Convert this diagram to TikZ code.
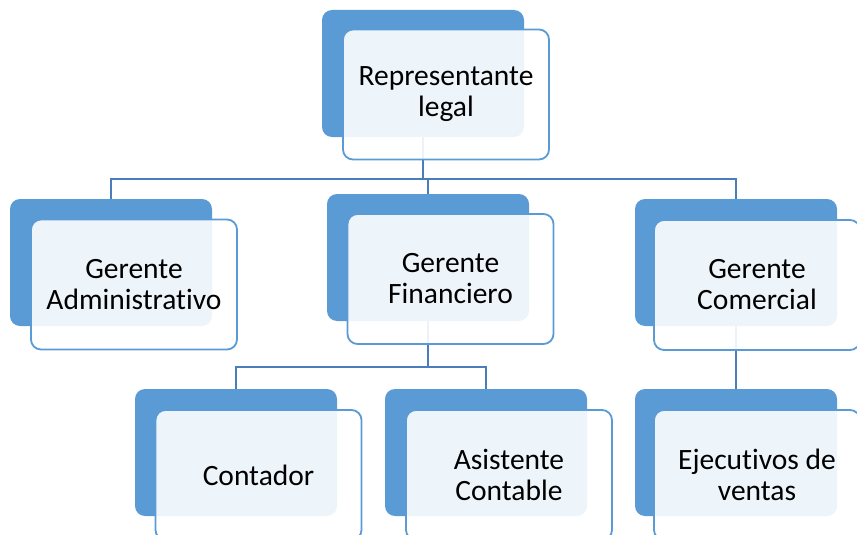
\documentclass[tikz,border=0pt]{standalone}
\usepackage{fontspec}
\setmainfont[Ligatures={NoCommon}]{Carlito}
\usepackage{xcolor}
\usepackage{tikz}
\definecolor{boxblue}{HTML}{5B9BD5}
\definecolor{lineblue}{HTML}{4A7EBB}

\begin{document}
\begin{tikzpicture}[x=1pt,y=-1pt,
  back/.style={fill=boxblue,draw=none,rounded corners=10pt,minimum width=202pt,minimum height=127pt,inner sep=0pt},
  front/.style={fill=white,fill opacity=0.9,text opacity=1,draw=boxblue,line width=1.8pt,rounded corners=10pt,
    minimum width=206pt,minimum height=130pt,inner sep=0pt,align=center,font=\fontsize{29.5}{31}\selectfont},
  link/.style={draw=lineblue,line width=2.2pt}]
\useasboundingbox (0,0) rectangle (857,535);
%\draw[step=10pt,gray,very thin] (0,0) grid (857,535);
\node[back] (rl) at (423,73.5) {};
\node[back] (ga) at (111,262.5) {};
\node[back] (gf) at (428,257.5) {};
\node[back] (gc) at (736,262.5) {};
\node[back] (co) at (236,452.5) {};
\node[back] (ac) at (486,452.5) {};
\node[back] (ev) at (736,452.5) {};
\coordinate (j1) at (423,179);
\coordinate (j2) at (428,367);
\draw[link] (rl.south) -- (j1);
\draw[link] (ga.north) |- (j1) -| (gc.north);
\draw[link] (j1 -| gf.north) -- (gf.north);
\draw[link] (gf.south) -- (j2);
\draw[link] (co.north) |- (j2) -| (ac.north);
\draw[link] (gc.south) -- (ev.north);
\node[front] (rlt) at (446,94.5) {Representante\\legal};
\node[front] (gat) at (134,284.5) {Gerente\\Administrativo};
\node[front] (gft) at (450.5,279) {Gerente\\Financiero};
\node[front] (gct) at (757,285) {Gerente\\Comercial};
\node[front] (cot) at (258.5,475) {Contador};
\node[front] (act) at (509,475) {Asistente\\Contable};
\node[front] (evt) at (757,475) {Ejecutivos de\\ventas};
\end{tikzpicture}
\end{document}
